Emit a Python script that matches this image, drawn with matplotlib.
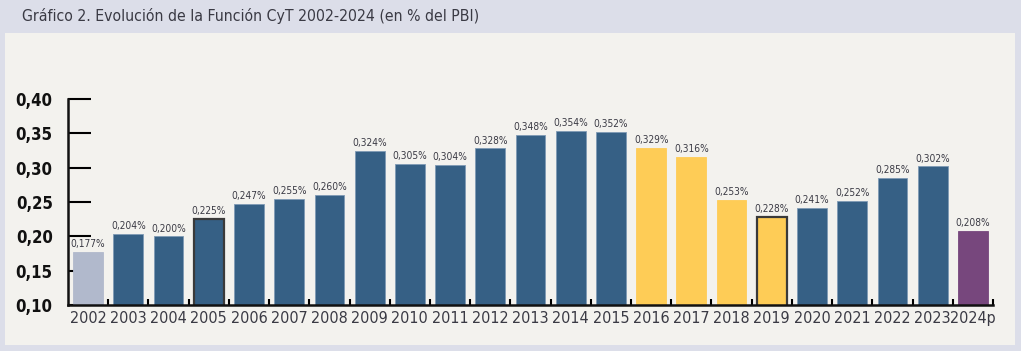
import numpy as np
import matplotlib
matplotlib.use("Agg")
from matplotlib import pyplot as plt
from matplotlib.patches import Rectangle

years = ["2002", "2003", "2004", "2005", "2006", "2007", "2008", "2009", "2010",
         "2011", "2012", "2013", "2014", "2015", "2016", "2017", "2018", "2019",
         "2020", "2021", "2022", "2023", "2024p"]
values = [0.177, 0.204, 0.200, 0.225, 0.247, 0.255, 0.260, 0.324, 0.305,
          0.304, 0.328, 0.348, 0.354, 0.352, 0.329, 0.316, 0.253, 0.228,
          0.241, 0.252, 0.285, 0.302, 0.208]
labels = ["0,177%", "0,204%", "0,200%", "0,225%", "0,247%", "0,255%", "0,260%",
          "0,324%", "0,305%", "0,304%", "0,328%", "0,348%", "0,354%", "0,352%",
          "0,329%", "0,316%", "0,253%", "0,228%", "0,241%", "0,252%", "0,285%",
          "0,302%", "0,208%"]
yticks = [0.10, 0.15, 0.20, 0.25, 0.30, 0.35, 0.40]
ytick_labels = ["0,10", "0,15", "0,20", "0,25", "0,30", "0,35", "0,40"]

blue = "#366085"
grey = "#b1b9cc"
yellow = "#fecc56"
purple = "#77477d"
colors = [grey] + [blue] * 13 + [yellow] * 4 + [blue] * 4 + [purple]
outlined = ["2005", "2019"]

plt.rcParams["font.family"] = ["DejaVu Sans"]
plt.rcParams["font.stretch"] = "condensed"

fig = plt.figure(figsize=(10.21, 3.51), dpi=100)
fig.patch.set_facecolor("#dcdee9")
fig.patches.append(Rectangle((5 / 1021, 1 - 345 / 351), 1010 / 1021, 312 / 351,
                             transform=fig.transFigure, facecolor="#f3f2ee",
                             edgecolor="none", zorder=-10))
fig.text(22 / 1021, 1 - 16 / 351, "Gráfico 2. Evolución de la Función CyT 2002-2024 (en % del PBI)",
         fontsize=11.3, color="#3a3a44", va="center", ha="left", fontstretch="condensed")

ax = fig.add_axes([68 / 1021, 1 - 305 / 351, 925 / 1021, (305 - 99) / 351])
ax.set_facecolor("none")
ax.set_zorder(5)

x = np.arange(len(years))
for i in range(len(years)):
    if years[i] in outlined:
        ec, lw = "#3a3a3a", 1.6
    else:
        ec, lw = "#7f9ab5" if colors[i] == blue else colors[i], 0.6
    ax.bar(x[i], values[i], width=0.74, bottom=0, color=colors[i],
           edgecolor=ec, linewidth=lw, zorder=2)
    ax.text(x[i], values[i] + 0.004, labels[i], ha="center", va="bottom",
            fontsize=7.3, color="#3a3a44", fontstretch="condensed")

ax.set_xlim(-0.5, len(years) - 0.5)
ax.set_ylim(0.10, 0.40)
ax.set_yticks(yticks)
ax.set_yticklabels(ytick_labels, fontsize=12, fontweight="bold", color="#111111")
ax.tick_params(axis="y", direction="in", length=16.5, width=1.5, pad=11)

ax.set_xticks(x + 0.5)
ax.set_xticklabels([])
ax.set_xticks(x, minor=True)
ax.set_xticklabels(years, minor=True, fontsize=11.5, color="#3a3a44")
ax.tick_params(axis="x", which="major", direction="in", length=4, width=1.5)
ax.tick_params(axis="x", which="minor", length=0, pad=4)

for s in ["top", "right"]:
    ax.spines[s].set_visible(False)
for s in ["left", "bottom"]:
    ax.spines[s].set_linewidth(1.8)
    ax.spines[s].set_color("#111111")

fig.savefig("out.png", dpi=100, facecolor=fig.get_facecolor())
